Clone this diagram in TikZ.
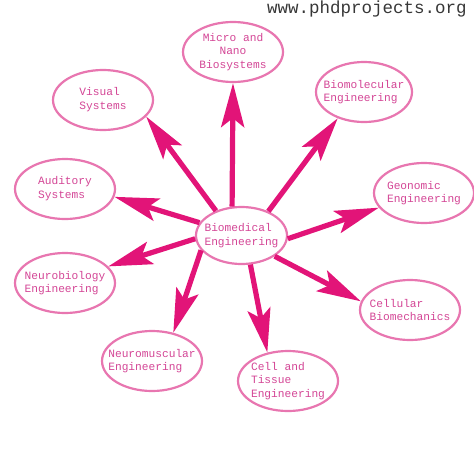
\documentclass[tikz,border=0pt]{standalone}
\usepackage{fontspec}
\setmonofont{Liberation Mono}
\usetikzlibrary{arrows.meta,shapes.geometric}
\definecolor{ringpink}{RGB}{232,118,176}
\definecolor{textpink}{RGB}{212,70,150}
\definecolor{arrowpink}{RGB}{226,20,120}
\definecolor{wmgrey}{RGB}{55,55,55}
\tikzset{
  topic/.style={ellipse, draw=ringpink, line width=2.2pt, fill=white,
    minimum width=100pt, minimum height=60pt, inner sep=0pt},
  txt/.style={text=textpink, align=left, inner sep=0pt,
    font=\ttfamily\fontsize{11.2pt}{13.8pt}\selectfont},
  link/.style={draw=arrowpink, line width=5.2pt,
    -{Stealth[length=44pt,width=23pt,inset=9pt]}},
}
\begin{document}
\begin{tikzpicture}[x=1pt,y=-1pt]
\useasboundingbox (0,0) rectangle (474,474);
\node[anchor=base west, text=wmgrey, font=\ttfamily\fontsize{17.5pt}{20pt}\selectfont, inner sep=0pt] (wm) at (267,13.5) {www.phdprojects.org};

\node[topic, minimum width=91pt, minimum height=57pt,
  label={[txt]center:{Biomedical\\Engineering}}] (bio) at (241.5,235.5) {};
\node[topic, label={[txt,align=center]center:{Micro and\\Nano\\Biosystems}}] (micro) at (233,52) {};
\node[topic, minimum width=96pt, label={[txt]center:{Biomolecular\\Engineering}}] (bmol) at (364,92) {};
\node[topic, label={[txt]center:{Visual\\Systems}}] (vis) at (103,100) {};
\node[topic, label={[txt]center:{Auditory\\Systems}}] (aud) at (65,189) {};
\node[topic, label={[txt]center:{Geonomic\\Engineering}}] (geo) at (424,193) {};
\node[topic, label={[txt]center:{Neurobiology\\Engineering}}] (nbio) at (65,283) {};
\node[topic, label={[txt]center:{Cellular\\Biomechanics}}] (cell) at (410,310) {};
\node[topic, label={[txt]center:{Neuromuscular\\Engineering}}] (nmus) at (152,361) {};
\node[topic, label={[txt]center:{Cell and\\Tissue\\Engineering}}] (tiss) at (288,381) {};

\draw[link] (bio.108) -- (micro.270);
\draw[link] (bio.136) -- (vis.-21);
\draw[link] (bio.42) -- (bmol.225);
\draw[link] (bio.163) -- (aud.-9);
\draw[link] (bio.-4) -- (geo.198);
\draw[link] (bio.184) -- (nbio.21);
\draw[link] (bio.-32) -- (cell.170);
\draw[link] (bio.200) -- (nmus.53);
\draw[link] (bio.-73) -- (tiss.126);
\end{tikzpicture}
\end{document}
